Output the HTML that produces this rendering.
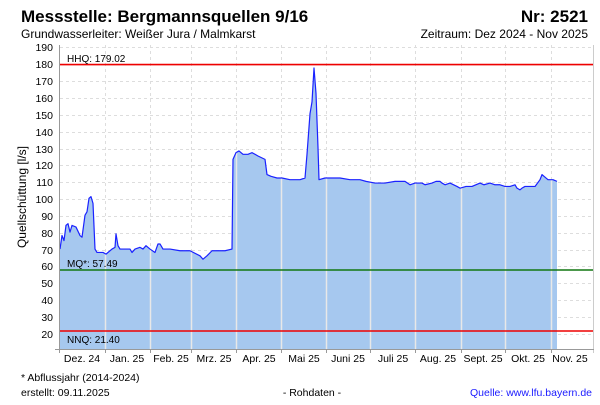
<!DOCTYPE html>
<html><head><meta charset="utf-8"><style>
body{margin:0;width:600px;height:400px;background:#fff;overflow:hidden;font-family:"Liberation Sans",sans-serif}
</style></head><body>
<svg width="600" height="400" xmlns="http://www.w3.org/2000/svg" font-family="Liberation Sans, sans-serif">
<text x="21" y="22" font-size="17" font-weight="bold">Messstelle: Bergmannsquellen 9/16</text>
<text x="588" y="22" font-size="17" font-weight="bold" text-anchor="end">Nr: 2521</text>
<text x="21" y="38" font-size="12">Grundwasserleiter:  Weißer Jura / Malmkarst</text>
<text x="588" y="38" font-size="12" text-anchor="end">Zeitraum: Dez 2024 - Nov 2025</text>
<g stroke="#ddd" stroke-dasharray="3,3" stroke-width="1">
<line x1="60" x2="593" y1="47.5" y2="47.5"/><line x1="60" x2="593" y1="64.5" y2="64.5"/><line x1="60" x2="593" y1="81.5" y2="81.5"/><line x1="60" x2="593" y1="98.5" y2="98.5"/><line x1="60" x2="593" y1="115.5" y2="115.5"/><line x1="60" x2="593" y1="132.5" y2="132.5"/><line x1="60" x2="593" y1="149.5" y2="149.5"/><line x1="60" x2="593" y1="165.5" y2="165.5"/><line x1="60" x2="593" y1="182.5" y2="182.5"/><line x1="60" x2="593" y1="199.5" y2="199.5"/><line x1="60" x2="593" y1="216.5" y2="216.5"/><line x1="60" x2="593" y1="233.5" y2="233.5"/><line x1="60" x2="593" y1="250.5" y2="250.5"/><line x1="60" x2="593" y1="266.5" y2="266.5"/><line x1="60" x2="593" y1="283.5" y2="283.5"/><line x1="60" x2="593" y1="300.5" y2="300.5"/><line x1="60" x2="593" y1="317.5" y2="317.5"/><line x1="60" x2="593" y1="334.5" y2="334.5"/>
<line x1="105.5" x2="105.5" y1="45" y2="349"/><line x1="150.5" x2="150.5" y1="45" y2="349"/><line x1="191.5" x2="191.5" y1="45" y2="349"/><line x1="236.5" x2="236.5" y1="45" y2="349"/><line x1="281.5" x2="281.5" y1="45" y2="349"/><line x1="326.5" x2="326.5" y1="45" y2="349"/><line x1="370.5" x2="370.5" y1="45" y2="349"/><line x1="415.5" x2="415.5" y1="45" y2="349"/><line x1="461.5" x2="461.5" y1="45" y2="349"/><line x1="505.5" x2="505.5" y1="45" y2="349"/><line x1="551.5" x2="551.5" y1="45" y2="349"/>
</g>
<defs><clipPath id="c"><path id="d" transform="translate(0,367.5) scale(1,-1.692)" d="M60,10.9 L60,70 62,78 64,75 66,84 68,85 70,80 72,84 76,83 80,78 82,77 85,90 87,92 89,100 91,101 93,97 95,70 97,68 103,68 106,67 112,70 115,71 116,79 118,72 120,70 130,70 132,68 135,70 140,71 143,70 146,72 150,70 155,68 158,73 160,73 163,70 170,70 180,69 190,69 200,66 203,64 207,66 212,69 225,69 232,70 233,123 236,127 239,128 243,126 248,126 252,127 258,125 265,123 267,114 271,113 277,112 282,112 290,111 300,111 305,112 307,126 310,150 312,157 314,177 316,162 318,130 319,111 325,112 340,112 350,111 360,111 366,110 375,109 385,109 395,110 405,110 410,108 415,109 422,109 425,108 432,109 436,110 440,110 442,109 445,108 450,109 457,107 460,106 466,107 472,107 480,109 484,108 490,109 495,108 500,108 505,107 510,107 515,108 517,106 520,105 522,106 525,107 530,107 535,107 540,111 542,114 544,113 548,111 553,111 557,110 L557,10.9 Z"/></clipPath></defs>
<use href="#d" fill="#a6c8ef"/>
<g clip-path="url(#c)" stroke="#e8e8e8" stroke-width="1.5">
<line x1="105.5" x2="105.5" y1="45" y2="349"/><line x1="150.5" x2="150.5" y1="45" y2="349"/><line x1="191.5" x2="191.5" y1="45" y2="349"/><line x1="236.5" x2="236.5" y1="45" y2="349"/><line x1="281.5" x2="281.5" y1="45" y2="349"/><line x1="326.5" x2="326.5" y1="45" y2="349"/><line x1="370.5" x2="370.5" y1="45" y2="349"/><line x1="415.5" x2="415.5" y1="45" y2="349"/><line x1="461.5" x2="461.5" y1="45" y2="349"/><line x1="505.5" x2="505.5" y1="45" y2="349"/><line x1="551.5" x2="551.5" y1="45" y2="349"/>
</g>
<path transform="translate(0,367.5) scale(1,-1.692)" fill="none" stroke="#1a22ff" stroke-width="1.2" vector-effect="non-scaling-stroke" stroke-linejoin="round" d="M60,70 62,78 64,75 66,84 68,85 70,80 72,84 76,83 80,78 82,77 85,90 87,92 89,100 91,101 93,97 95,70 97,68 103,68 106,67 112,70 115,71 116,79 118,72 120,70 130,70 132,68 135,70 140,71 143,70 146,72 150,70 155,68 158,73 160,73 163,70 170,70 180,69 190,69 200,66 203,64 207,66 212,69 225,69 232,70 233,123 236,127 239,128 243,126 248,126 252,127 258,125 265,123 267,114 271,113 277,112 282,112 290,111 300,111 305,112 307,126 310,150 312,157 314,177 316,162 318,130 319,111 325,112 340,112 350,111 360,111 366,110 375,109 385,109 395,110 405,110 410,108 415,109 422,109 425,108 432,109 436,110 440,110 442,109 445,108 450,109 457,107 460,106 466,107 472,107 480,109 484,108 490,109 495,108 500,108 505,107 510,107 515,108 517,106 520,105 522,106 525,107 530,107 535,107 540,111 542,114 544,113 548,111 553,111 557,110"/>
<line x1="60" x2="593" y1="64.6" y2="64.6" stroke="#e00" stroke-width="1.6"/>
<line x1="60" x2="593" y1="270" y2="270" stroke="#117711" stroke-width="1.6"/>
<line x1="60" x2="593" y1="331" y2="331" stroke="#e00" stroke-width="1.6"/>
<g font-size="10">
<text x="67" y="62">HHQ: 179.02</text>
<text x="67" y="267">MQ*: 57.49</text>
<text x="67" y="343">NNQ: 21.40</text>
</g>
<line x1="59.5" x2="59.5" y1="45" y2="353" stroke="#999"/>
<line x1="593.5" x2="593.5" y1="45" y2="353" stroke="#ccc"/>
<line x1="55" x2="594" y1="349.5" y2="349.5" stroke="#999"/>
<g stroke="#999"><line x1="105.5" x2="105.5" y1="349" y2="353"/><line x1="150.5" x2="150.5" y1="349" y2="353"/><line x1="191.5" x2="191.5" y1="349" y2="353"/><line x1="236.5" x2="236.5" y1="349" y2="353"/><line x1="281.5" x2="281.5" y1="349" y2="353"/><line x1="326.5" x2="326.5" y1="349" y2="353"/><line x1="370.5" x2="370.5" y1="349" y2="353"/><line x1="415.5" x2="415.5" y1="349" y2="353"/><line x1="461.5" x2="461.5" y1="349" y2="353"/><line x1="505.5" x2="505.5" y1="349" y2="353"/><line x1="551.5" x2="551.5" y1="349" y2="353"/></g>
<g font-size="10.5" text-anchor="end">
<text x="53" y="51">190</text><text x="53" y="68">180</text><text x="53" y="85">170</text><text x="53" y="102">160</text><text x="53" y="119">150</text><text x="53" y="136">140</text><text x="53" y="153">130</text><text x="53" y="169">120</text><text x="53" y="186">110</text><text x="53" y="203">100</text><text x="53" y="220">90</text><text x="53" y="237">80</text><text x="53" y="254">70</text><text x="53" y="270">60</text><text x="53" y="287">50</text><text x="53" y="304">40</text><text x="53" y="321">30</text><text x="53" y="338">20</text>
</g>
<text transform="translate(26,197) rotate(-90)" font-size="12" text-anchor="middle">Quellschüttung [l/s]</text>
<g font-size="10.5" text-anchor="middle">
<text x="82" y="362">Dez. 24</text><text x="127" y="362">Jan. 25</text><text x="171" y="362">Feb. 25</text><text x="214" y="362">Mrz. 25</text><text x="259" y="362">Apr. 25</text><text x="304" y="362">Mai 25</text><text x="348" y="362">Juni 25</text><text x="393" y="362">Juli 25</text><text x="438" y="362">Aug. 25</text><text x="483" y="362">Sept. 25</text><text x="528" y="362">Okt. 25</text><text x="570" y="362">Nov. 25</text>
</g>
<text x="21" y="381" font-size="10.5">* Abflussjahr (2014-2024)</text>
<text x="21" y="396" font-size="10.5">erstellt:  09.11.2025</text>
<text x="312" y="396" font-size="10.5" text-anchor="middle">- Rohdaten -</text>
<text x="592" y="396" font-size="10.5" text-anchor="end" fill="#1a1aff">Quelle: www.lfu.bayern.de</text>
</svg>
</body></html>
